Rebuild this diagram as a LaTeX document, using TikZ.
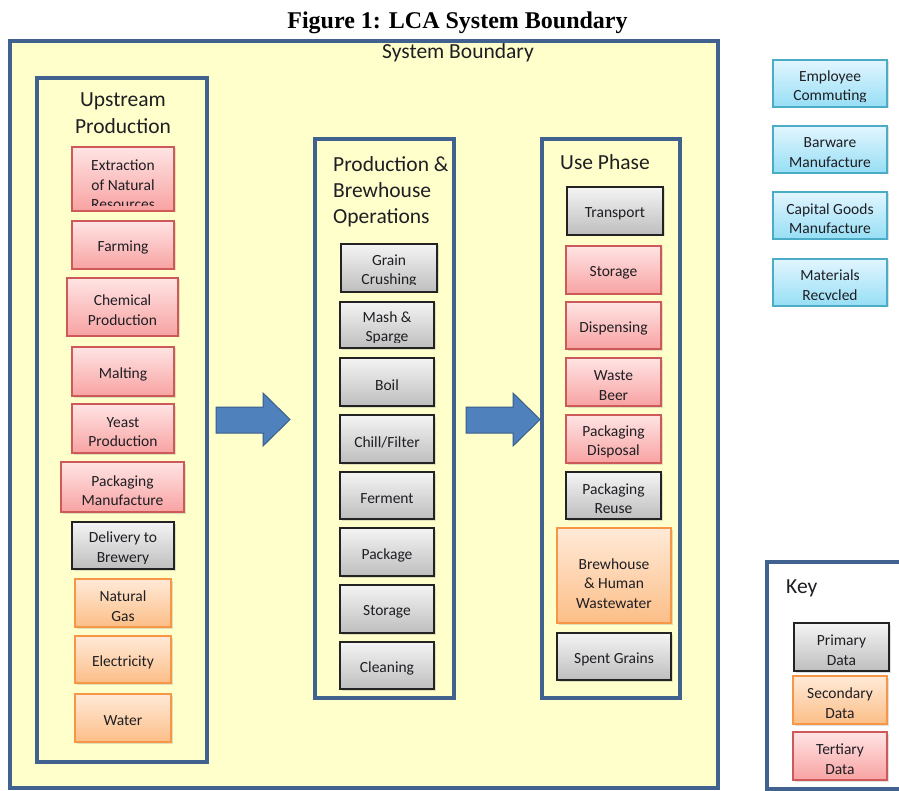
\documentclass[tikz,border=0pt]{standalone}
\usepackage{fontspec}
\setmainfont{Carlito}
\newfontfamily\titlefont{Liberation Serif}
\usetikzlibrary{shadows}
\definecolor{frame}{RGB}{65,98,143}
\definecolor{bgyellow}{RGB}{255,255,204}
\definecolor{txt}{RGB}{30,30,35}
\definecolor{arrfill}{RGB}{79,129,189}
\definecolor{arrdraw}{RGB}{56,93,138}
\def\bxinset{6}
\newcommand{\bx}[8]{%
  \node[#2, minimum width={(#5-#3)*1pt}, minimum height={(#6-#4)*1pt}] (#1) at ({(#3+#5)/2},{(#4+#6)/2}) {};
  \begin{scope}
    \clip (#1.north west) rectangle ([yshift=\bxinset pt]#1.south east);
    \node[boxtext] (#1-t) at ([yshift={(#8-2)*1pt}]#1.center) {#7};
  \end{scope}}
\begin{document}
\begin{tikzpicture}[x=1pt,y=-1pt,
  box/.style={line width=1.2pt, inner sep=0pt, drop shadow={shadow xshift=1.5pt, shadow yshift=-1.5pt, opacity=0.25}},
  prim/.style={box, draw={rgb,255:red,35;green,35;blue,35}, top color={rgb,255:red,244;green,244;blue,244}, bottom color={rgb,255:red,190;green,190;blue,190}},
  sec/.style={box, draw={rgb,255:red,247;green,150;blue,70}, top color={rgb,255:red,255;green,234;blue,216}, bottom color={rgb,255:red,252;green,190;blue,135}},
  tert/.style={box, draw={rgb,255:red,205;green,90;blue,88}, top color={rgb,255:red,255;green,228;blue,228}, bottom color={rgb,255:red,248;green,162;blue,162}},
  blu/.style={box, draw={rgb,255:red,75;green,172;blue,198}, top color={rgb,255:red,226;green,246;blue,255}, bottom color={rgb,255:red,150;green,222;blue,245}},
  boxtext/.style={font=\fontsize{15.5}{19.5}\selectfont, align=center, inner sep=0pt, text=txt},
  ttl/.style={font=\fontsize{21.5}{26.5}\selectfont, inner sep=0pt, text=txt},
  column/.style={draw=frame, line width=4pt, inner sep=0pt},
  arrowshape/.style={fill=arrfill, draw=arrdraw, line width=1pt, line join=miter}
]
\useasboundingbox (0,0) rectangle (899,791);
\fill[white] (0,0) rectangle (899,791);

% title
\node[font=\titlefont\bfseries\fontsize{24}{28}\selectfont, anchor=base, inner sep=0pt] (fig) at (457.5,29) {Figure 1: LCA System Boundary};

% system boundary
\node[column, fill=bgyellow, minimum width=708pt, minimum height=747pt] (sys) at (364,414.5) {};
\node[ttl, anchor=base] (systitle) at (458,58.5) {System Boundary};

% columns
\node[column, minimum width=170pt, minimum height=684pt] (up) at (122,420) {};
\node[column, minimum width=139pt, minimum height=559pt] (mid) at (384.5,418.5) {};
\node[column, minimum width=138pt, minimum height=559pt] (use) at (611,418.5) {};

\node[ttl, anchor=base] (up1) at (123,107) {Upstream};
\node[ttl, anchor=base] (up2) at (123,134) {Production};
\node[ttl, anchor=base west] (mid1) at (333,172) {Production \&};
\node[ttl, anchor=base west] (mid2) at (333,198) {Brewhouse};
\node[ttl, anchor=base west] (mid3) at (333,224) {Operations};
\node[ttl, anchor=base west] (use1) at (560,170) {Use Phase};

% arrows
\draw[arrowshape] (216,407) -- (263,407) -- (263,393) -- (290,419.5) -- (263,446) -- (263,433) -- (216,433) -- cycle;
\draw[arrowshape] (466,407) -- (513,407) -- (513,393) -- (540,419.5) -- (513,446) -- (513,433) -- (466,433) -- cycle;

% upstream boxes
\bx{ext}{tert}{72}{147}{174}{211}{Extraction\\of Natural\\Resources}{-4}
\bx{farm}{tert}{72}{221}{174}{269}{Farming}{-1}
\bx{chem}{tert}{67}{278}{178}{336}{Chemical\\Production}{-1}
\bx{malt}{tert}{72}{347}{174}{396}{Malting}{-1}
\bx{yeast}{tert}{72}{404}{174}{453}{Yeast\\Production}{-1.5}
\bx{packm}{tert}{61}{462}{184}{512}{Packaging\\Manufacture}{-1.5}
\bx{deliv}{prim}{72}{522}{174}{569}{Delivery to\\Brewery}{-1}
\bx{gas}{sec}{75}{579}{171}{627}{Natural\\Gas}{-1}
\bx{elec}{sec}{75}{636}{171}{683}{Electricity}{-1}
\bx{water}{sec}{75}{694}{171}{742}{Water}{-1}

% production boxes
\def\bxinset{8}
\bx{grain}{prim}{341}{244}{437}{292}{Grain\\Crushing}{-1}
\def\bxinset{6}
\bx{mash}{prim}{340}{302}{434}{348}{Mash \&\\Sparge}{-1}
\bx{boil}{prim}{340}{358}{434}{406}{Boil}{-1}
\bx{chill}{prim}{340}{415}{434}{463}{Chill/Filter}{-1}
\bx{ferm}{prim}{340}{472}{434}{519}{Ferment}{-1}
\bx{pkg}{prim}{340}{528}{434}{576}{Package}{-1}
\bx{stor}{prim}{340}{585}{434}{633}{Storage}{-1}
\bx{clean}{prim}{340}{642}{434}{689}{Cleaning}{-1}

% use phase boxes
\bx{trans}{prim}{567}{187}{663}{235}{Transport}{-1}
\bx{ustor}{tert}{566}{246}{661}{294}{Storage}{-1}
\bx{disp}{tert}{566}{302}{661}{349}{Dispensing}{-1}
\bx{waste}{tert}{566}{358}{661}{406}{Waste\\Beer}{-1.5}
\bx{pdis}{tert}{566}{415}{661}{463}{Packaging\\Disposal}{-1}
\bx{preu}{prim}{566}{472}{661}{519}{Packaging\\Reuse}{-1}
\def\bxinset{9}
\bx{brew}{sec}{557}{528}{671}{623}{Brewhouse\\\& Human\\Wastewater\\Treatment}{-15.5}
\def\bxinset{6}
\bx{spent}{prim}{557}{633}{671}{680}{Spent Grains}{-1}

% outside boundary
\bx{emp}{blu}{773}{60}{887}{107}{Employee\\Commuting}{-1.5}
\bx{barw}{blu}{773}{126}{887}{173}{Barware\\Manufacture}{-1}
\bx{capg}{blu}{773}{192}{887}{239}{Capital Goods\\Manufacture}{-1}
\def\bxinset{7}
\bx{matr}{blu}{773}{259}{887}{306}{Materials\\Recycled}{-2}
\def\bxinset{6}

% key
\node[draw=frame, line width=3.5pt, fill=white, inner sep=0pt, minimum width=143pt, minimum height=227pt] (key) at (838.5,675.5) {};
\node[ttl, anchor=base west] (keyt) at (786,593) {Key};
\bx{kp}{prim}{794}{623}{889}{671}{Primary\\Data}{-1}
\bx{ks}{sec}{793}{676}{887}{724}{Secondary\\Data}{-1}
\bx{kt}{tert}{793}{732}{887}{780}{Tertiary\\Data}{-1}
\end{tikzpicture}
\end{document}
